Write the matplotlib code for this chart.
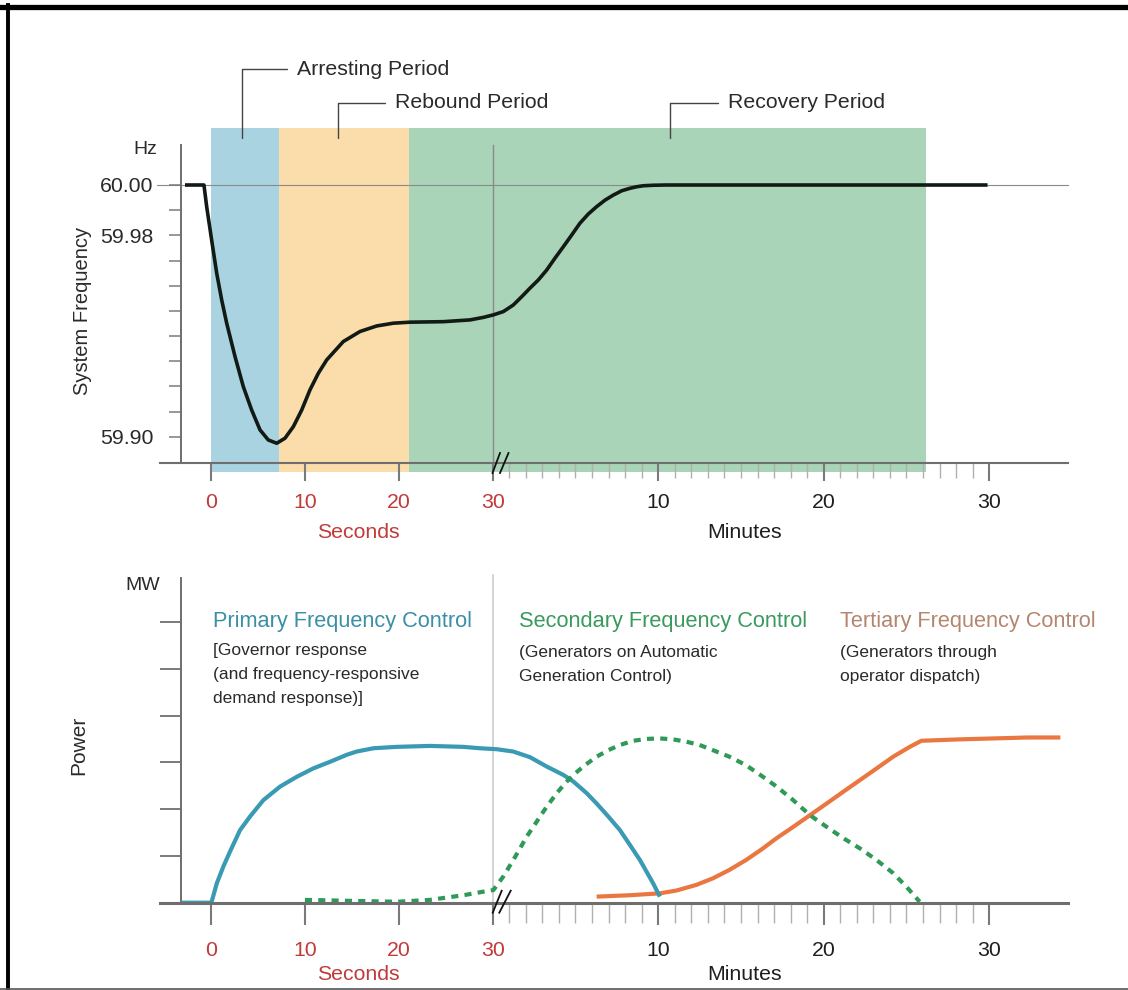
import matplotlib
matplotlib.use("Agg")
import matplotlib.pyplot as plt
from matplotlib.lines import Line2D
import numpy as np

plt.rcParams['font.family'] = ['Liberation Sans', 'DejaVu Sans']

# ------------------------------------------------------------------ data
# x axis is broken: seconds 0..30, then minutes 0..35 (30 s == minute 0)
SEC_PX = 9.39          # pixels per second
MIN_PX = 16.55         # pixels per minute
K = MIN_PX / SEC_PX    # axis units per minute


def sec(s):
    return np.asarray(s, float)


def mins(m):
    return 30 + K * np.asarray(m, float)


sec_tick_values = [0, 10, 20, 30]
min_tick_values = [10, 20, 30]
min_minor_values = [m for m in range(1, 30) if m not in (10, 20)]
sec_tick_labels = ['0', '10', '20', '30']
min_tick_labels = ['10', '20', '30']

# period shading (seconds / minutes)
arresting_span_s = (0.0, 7.24)
rebound_span_s = (7.24, 21.1)
recovery_start_s = 21.1
recovery_end_min = 26.2

period_names = ['Arresting Period', 'Rebound Period', 'Recovery Period']

# system frequency (Hz)
freq_t_sec = [-2.77, -0.75, -0.46, 0.07, 0.61, 1.14, 1.67, 2.56, 3.44, 4.33, 5.22,
              6.10, 7.00, 7.88, 8.77, 9.66, 10.54, 11.43, 12.32, 14.09, 15.87,
              17.65, 19.42, 21.19, 24.74, 27.58, 29.0]
freq_v_sec = [60.000, 60.000, 59.9914, 59.9781, 59.9649, 59.9543, 59.9451, 59.9318,
              59.9199, 59.9106, 59.9027, 59.8987, 59.8974, 59.8994, 59.9040, 59.9106,
              59.9186, 59.9252, 59.9305, 59.9378, 59.9418, 59.9440, 59.9451, 59.9455,
              59.9457, 59.9464, 59.9474]
freq_t_min = [0.04, 0.64, 1.24, 1.75, 2.25, 2.76, 3.26, 3.76, 4.27, 4.77, 5.27, 5.78,
              6.28, 6.79, 7.29, 7.79, 8.30, 8.70, 9.10, 9.70, 10.5, 29.9]
freq_v_min = [59.9484, 59.9497, 59.9523, 59.9556, 59.9590, 59.9623, 59.9662, 59.9709,
              59.9755, 59.9801, 59.9848, 59.9885, 59.9914, 59.9940, 59.9960, 59.9977,
              59.9987, 59.9993, 59.9997, 59.9999, 60.000, 60.000]

# power (arbitrary MW units)
primary_t_sec = [-3.19, 0.0, 0.07, 0.61, 1.31, 2.02, 3.09, 4.15, 5.57, 7.35, 9.13, 10.9,
                 12.67, 14.45, 15.52, 17.29, 19.78, 23.32, 26.87, 28.65]
primary_v_sec = [0.0, 0.0, 0.02, 0.41, 0.77, 1.09, 1.55, 1.84, 2.19, 2.48, 2.69, 2.87,
                 3.01, 3.16, 3.23, 3.30, 3.33, 3.35, 3.33, 3.30]
primary_t_min = [0.24, 1.24, 2.25, 3.26, 4.27, 4.87, 5.68, 6.28, 6.99, 7.69, 8.30, 8.90,
                 9.30, 9.70, 10.1]
primary_v_min = [3.28, 3.23, 3.11, 2.91, 2.73, 2.59, 2.34, 2.12, 1.84, 1.55, 1.23, 0.91,
                 0.66, 0.41, 0.13]

secondary_t_sec = [10.0, 14.8, 19.78, 23.3, 26.9, 29.4]
secondary_v_sec = [0.06, 0.04, 0.02, 0.06, 0.16, 0.25]
secondary_t_min = [0.04, 0.64, 1.24, 1.65, 2.05, 2.45, 2.86, 3.26, 3.87, 4.37, 4.87, 5.58,
                   6.28, 6.99, 7.69, 8.5, 9.3, 10.1, 10.9, 11.7, 12.5, 13.3, 14.3, 15.3,
                   16.25, 17.16, 18.16, 19.17, 20.18, 21.18, 22.19, 23.2, 24.2, 25.0, 25.8]
secondary_v_min = [0.27, 0.56, 0.91, 1.16, 1.41, 1.62, 1.84, 2.05, 2.34, 2.55, 2.73, 2.94,
                   3.12, 3.26, 3.37, 3.46, 3.50, 3.51, 3.49, 3.44, 3.37, 3.26, 3.12, 2.94,
                   2.71, 2.48, 2.19, 1.87, 1.62, 1.38, 1.16, 0.91, 0.63, 0.34, 0.02]

tertiary_t_min = [6.28, 8.3, 10.1, 11.1, 12.3, 13.3, 14.3, 15.3, 16.25, 17.16, 18.16,
                  19.17, 20.18, 21.18, 22.19, 23.2, 24.2, 25.2, 25.9, 28.2, 30.27, 32.3, 34.3]
tertiary_v_min = [0.13, 0.16, 0.20, 0.26, 0.38, 0.52, 0.70, 0.91, 1.14, 1.38, 1.62,
                  1.87, 2.12, 2.37, 2.62, 2.87, 3.12, 3.33, 3.46, 3.49, 3.51, 3.53, 3.53]

control_titles = ['Primary Frequency Control', 'Secondary Frequency Control',
                  'Tertiary Frequency Control']
control_notes = [['[Governor response', '(and frequency-responsive', 'demand response)]'],
                 ['(Generators on Automatic', 'Generation Control)'],
                 ['(Generators through', 'operator dispatch)']]

# ------------------------------------------------------------------ style
W, H = 1128, 990
RED = '#c23a3a'
AXC = '#6e6e6e'
BLUE_BAND = '#aad3e1'
ORANGE_BAND = '#fbdcab'
GREEN_BAND = '#a9d4b8'
C_PRIMARY = '#3a9ab4'
C_SECOND = '#2f9a58'
C_TERT = '#ea7742'
T_PRIMARY = '#3b8fa7'
T_SECOND = '#3a9a5e'
T_TERT = '#b5866f'
TXT = '#2a2a2a'

fig = plt.figure(figsize=(W / 100, H / 100), dpi=100)


def frac_x(px):
    return px / W


def frac_y(py):
    return 1 - py / H


X0_PX, X1_PX = 157.5, 1068
xlim = ((X0_PX - 211) / SEC_PX, (X1_PX - 211) / SEC_PX)
spine_left_u = (181 - 211) / SEC_PX
axis_start_u = (160 - 211) / SEC_PX

# ---------------- top panel
top_y0, top_y1 = 120, 480
ax1 = fig.add_axes([frac_x(X0_PX), frac_y(top_y1), frac_x(X1_PX - X0_PX), (top_y1 - top_y0) / H])
f_of_px = lambda py: 60 - (py - 185) / 2517.0
ax1.set_xlim(*xlim)
ax1.set_ylim(f_of_px(top_y1), f_of_px(top_y0))
f_axis = f_of_px(462.5)

band_lo = (top_y1 - 472) / (top_y1 - top_y0)
band_hi = (top_y1 - 128) / (top_y1 - top_y0)
ax1.axvspan(sec(arresting_span_s[0]), sec(arresting_span_s[1]), band_lo, band_hi,
            color=BLUE_BAND, lw=0, zorder=0)
ax1.axvspan(sec(rebound_span_s[0]), sec(rebound_span_s[1]), band_lo, band_hi,
            color=ORANGE_BAND, lw=0, zorder=0)
ax1.axvspan(sec(recovery_start_s), mins(recovery_end_min), band_lo, band_hi,
            color=GREEN_BAND, lw=0, zorder=0)

ax1.plot([xlim[0], xlim[1]], [60.0, 60.0], color='#8a8a8a', lw=0.8, zorder=1, clip_on=False)
ax1.plot([30, 30], [f_axis, f_of_px(145)], color='#8a8a8a', lw=1.0, zorder=1)

freq_u = np.concatenate([sec(freq_t_sec), mins(freq_t_min)])
freq_v = np.concatenate([freq_v_sec, freq_v_min])
ax1.plot(freq_u, freq_v, color='#111a14', lw=2.6, zorder=4, solid_capstyle='butt',
         solid_joinstyle='round')

for s in ['top', 'right']:
    ax1.spines[s].set_visible(False)
ax1.spines['left'].set_position(('data', spine_left_u))
ax1.spines['left'].set_bounds(f_axis, f_of_px(145))
ax1.spines['bottom'].set_position(('data', f_axis))
ax1.spines['bottom'].set_bounds(axis_start_u, xlim[1])
ax1.spines['left'].set_color(AXC)
ax1.spines['bottom'].set_color(AXC)
ax1.spines['left'].set_linewidth(1.4)
ax1.spines['bottom'].set_linewidth(1.5)
ax1.spines['left'].set_zorder(5)
ax1.spines['bottom'].set_zorder(5)

ax1.set_yticks([59.90, 59.98, 60.00], ['59.90', '59.98', '60.00'])
ax1.set_yticks(np.round(np.arange(59.90, 60.001, 0.01), 2), minor=True)
ax1.tick_params(axis='y', which='both', direction='out', length=9, width=1.1,
                color='#7a7a7a', labelsize=15.3, labelcolor=TXT, pad=11)

# ---------------- bottom panel
bot_y0, bot_y1 = 570, 930
ax2 = fig.add_axes([frac_x(X0_PX), frac_y(bot_y1), frac_x(X1_PX - X0_PX), (bot_y1 - bot_y0) / H])
p_of_px = lambda py: (902.7 - py) / 46.8
ax2.set_xlim(*xlim)
ax2.set_ylim(p_of_px(bot_y1), p_of_px(bot_y0))

ax2.plot([30, 30], [0, p_of_px(575)], color='#c8c8c8', lw=1.1, zorder=1)

prim_u = np.concatenate([sec(primary_t_sec), mins(primary_t_min)])
prim_v = np.concatenate([primary_v_sec, primary_v_min])
sec_u = np.concatenate([sec(secondary_t_sec), mins(secondary_t_min)])
sec_v = np.concatenate([secondary_v_sec, secondary_v_min])
ter_u = mins(tertiary_t_min)
ax2.plot(ter_u, tertiary_v_min, color=C_TERT, lw=3.0, zorder=3, solid_capstyle='butt',
         solid_joinstyle='round')
ax2.plot(prim_u, prim_v, color=C_PRIMARY, lw=3.0, zorder=4, solid_capstyle='butt',
         solid_joinstyle='round')
ax2.plot(sec_u, sec_v, color=C_SECOND, lw=3.0, ls=(0, (1.7, 1.5)), zorder=4)

for s in ['top', 'right']:
    ax2.spines[s].set_visible(False)
ax2.spines['left'].set_position(('data', spine_left_u))
ax2.spines['left'].set_bounds(0, p_of_px(578))
ax2.spines['bottom'].set_position(('data', 0))
ax2.spines['bottom'].set_bounds(axis_start_u, xlim[1])
ax2.spines['left'].set_color(AXC)
ax2.spines['bottom'].set_color(AXC)
ax2.spines['left'].set_linewidth(1.4)
ax2.spines['bottom'].set_linewidth(2.2)
ax2.spines['bottom'].set_zorder(5)

ax2.set_yticks([1, 2, 3, 4, 5, 6], [''] * 6)
ax2.tick_params(axis='y', which='major', direction='out', length=15, width=1.4, color='#7a7a7a')

# ---------------- shared x ticks
major_u = list(sec(sec_tick_values)) + list(mins(min_tick_values))
major_lbl = sec_tick_labels + min_tick_labels
minor_u = list(mins(min_minor_values))
for ax, mlen, nlen, pad in [(ax1, 13, 11, 9), (ax2, 16, 14.5, 11.5)]:
    ax.set_xticks(major_u, major_lbl)
    ax.set_xticks(minor_u, minor=True)
    ax.tick_params(axis='x', which='major', direction='out', length=mlen, width=1.5,
                   color='#7a7a7a', labelsize=15.3, pad=pad)
    ax.tick_params(axis='x', which='minor', direction='out', length=nlen, width=1.0,
                   color='#b0b0b0')
    for i, t in enumerate(ax.get_xticklabels()):
        t.set_color(RED if i < len(sec_tick_values) else '#1e1e1e')

# axis names
for ax, ypx in [(ax1, 532), (ax2, 974)]:
    tr = ax.get_xaxis_transform()
    y0 = ax.get_position().y0
    hh = ax.get_position().height
    yfrac = (frac_y(ypx) - y0) / hh
    ax.text(sec(15.7), yfrac, 'Seconds', transform=tr, color=RED, fontsize=15.3,
            ha='center', va='center')
    ax.text(mins(15.2), yfrac, 'Minutes', transform=tr, color='#1e1e1e', fontsize=15.3,
            ha='center', va='center')

fig.text(frac_x(157), frac_y(150), 'Hz', ha='right', va='center', fontsize=14, color=TXT)
fig.text(frac_x(160), frac_y(585), 'MW', ha='right', va='center', fontsize=14, color=TXT)
fig.text(frac_x(83), frac_y(311), 'System Frequency', rotation=90, ha='center', va='center',
         fontsize=14.5, color=TXT)
fig.text(frac_x(79), frac_y(745), 'Power', rotation=90, ha='center', va='center',
         fontsize=15, color=TXT)

# period annotations
leader_u = [sec(3.33), sec(13.49), mins(10.71)]
label_u = [sec(9.16), sec(19.6), mins(14.22)]
label_f = [f_of_px(69), f_of_px(103), f_of_px(103)]
for name, lu, tu, tf in zip(period_names, leader_u, label_u, label_f):
    ax1.annotate(name, xy=(lu, f_of_px(137.7)), xytext=(tu, tf), textcoords='data',
                 ha='left', va='center', fontsize=15.3, color=TXT, annotation_clip=False,
                 arrowprops=dict(arrowstyle='-', color='#444444', lw=1.0,
                                 connectionstyle='angle,angleA=0,angleB=90,rad=0',
                                 relpos=(0, 0.5), shrinkA=5, shrinkB=0))

# control labels
title_u = [sec(0.2), mins(1.59), mins(21.0)]
title_cols = [T_PRIMARY, T_SECOND, T_TERT]
note_p0 = [p_of_px(650), p_of_px(652), p_of_px(652)]
for title, notes, tu, col, np0 in zip(control_titles, control_notes, title_u, title_cols, note_p0):
    ax2.text(tu, p_of_px(621), title, color=col, fontsize=15.7, ha='left', va='center')
    for i, line in enumerate(notes):
        ax2.text(tu, np0 - i * 24.5 / 46.8, line, color=TXT, fontsize=12.5,
                 ha='left', va='center')

# axis-break marks
for ax, yv, segs in [(ax1, f_axis, [((-0.2, -10.5), (7.3, 9.5)), ((7.3, -10.5), (15.8, 9.5))]),
                     (ax2, 0, [((0.0, -10.0), (9.0, 12.0)), ((6.6, -10.0), (18.0, 12.0))])]:
    base = ax.transData.transform((30, yv))
    inv = ax.transData.inverted()
    for (a, b) in segs:
        p1 = inv.transform(base + np.array(a))
        p2 = inv.transform(base + np.array(b))
        ax.plot([p1[0], p2[0]], [p1[1], p2[1]], color='#111111', lw=1.3, zorder=6,
                clip_on=False)

# picture frame
fig.add_artist(Line2D([0, 1], [frac_y(6.5), frac_y(6.5)], color='black', lw=3.8))
fig.add_artist(Line2D([frac_x(8.2), frac_x(8.2)], [frac_y(5), 0], color='black', lw=2.8))
fig.add_artist(Line2D([0, 1], [frac_y(988.5), frac_y(988.5)], color='#555555', lw=1.2))

fig.savefig('out.png', dpi=100)
